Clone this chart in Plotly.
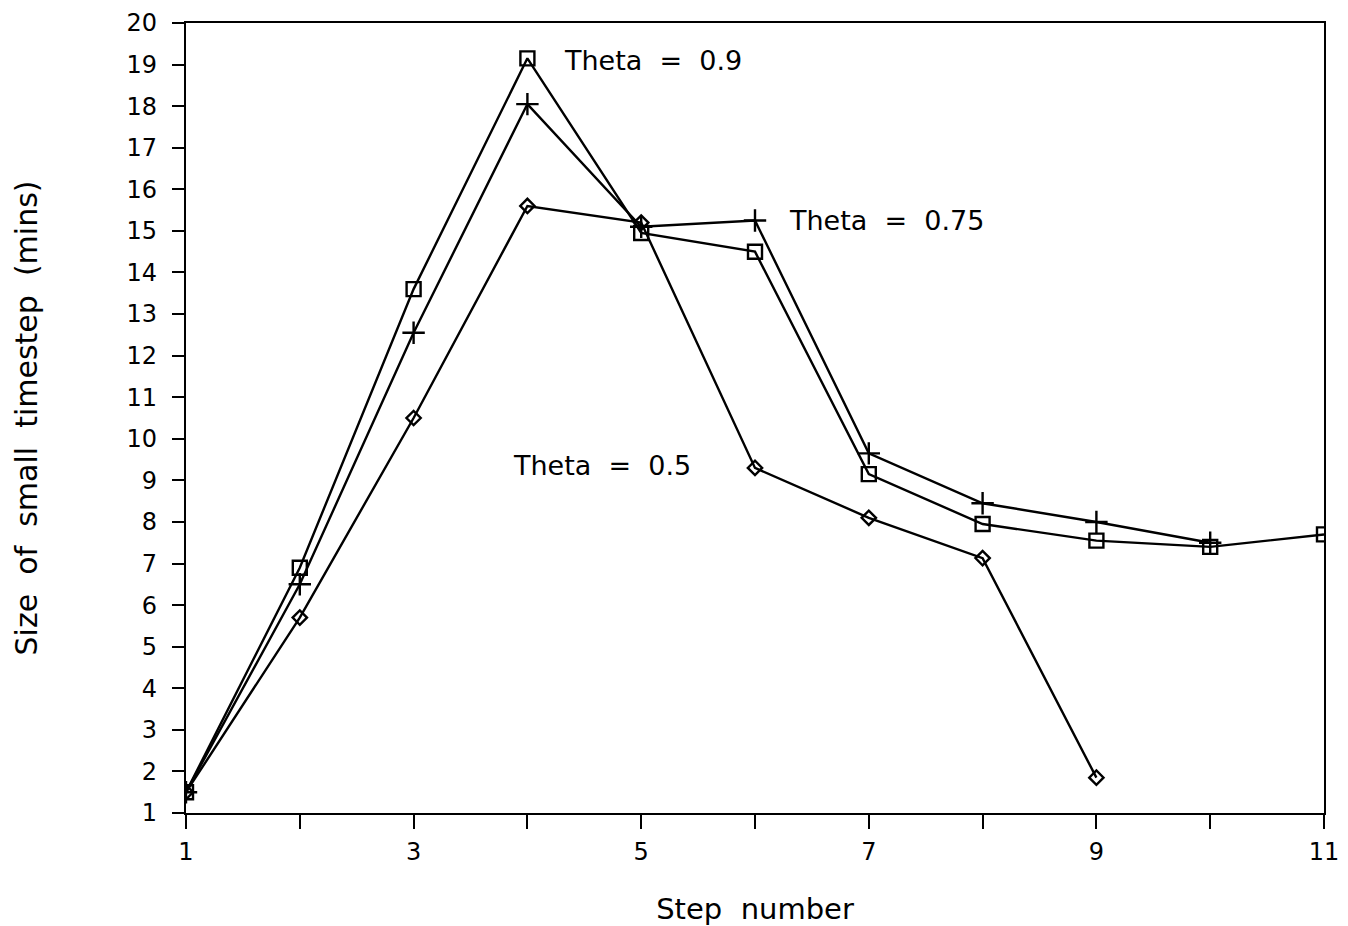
import plotly.graph_objects as go

steps_09 = [1, 2, 3, 4, 5, 6, 7, 8, 9, 10, 11]
theta_09 = [1.5, 6.9, 13.6, 19.15, 14.95, 14.5, 9.15, 7.95, 7.55, 7.4, 7.7]

steps_075 = [1, 2, 3, 4, 5, 6, 7, 8, 9, 10]
theta_075 = [1.5, 6.5, 12.55, 18.05, 15.1, 15.25, 9.65, 8.45, 8.0, 7.5]

steps_05 = [1, 2, 3, 4, 5, 6, 7, 8, 9]
theta_05 = [1.5, 5.7, 10.5, 15.6, 15.2, 9.3, 8.1, 7.13, 1.85]

NB = "\u00a0"
labels = [f"Theta{NB}{NB}={NB}{NB}0.9", f"Theta{NB}{NB}={NB}{NB}0.75", f"Theta{NB}{NB}={NB}{NB}0.5"]
label_x = [4.3, 6.28, 3.86]
label_y = [19.1, 15.25, 9.35]

x_tickvals = [1, 3, 5, 7, 9, 11]
y_tickvals = list(range(1, 21))

x_title = f"Step{NB}{NB}number"
y_title = f"Size{NB}{NB}of{NB}{NB}small{NB}{NB}timestep{NB}{NB}(mins)"

font_family = "DejaVu Sans"

fig = go.Figure()
line = dict(color="black", width=2.4)
fig.add_trace(go.Scatter(x=steps_09, y=theta_09, mode="lines+markers", line=line,
                         marker=dict(symbol="square-open", size=14, color="black", line=dict(width=2.4))))
fig.add_trace(go.Scatter(x=steps_075, y=theta_075, mode="lines+markers", line=line,
                         marker=dict(symbol="cross-thin-open", size=16, color="black", line=dict(width=2.4))))
fig.add_trace(go.Scatter(x=steps_05, y=theta_05, mode="lines+markers", line=line,
                         marker=dict(symbol="diamond-open", size=11, color="black", line=dict(width=2.4))))

for t, ax, ay in zip(labels, label_x, label_y):
    fig.add_annotation(x=ax, y=ay, text=t, showarrow=False, xanchor="left", yanchor="middle",
                       font=dict(size=27, color="black", family=font_family))

fig.update_layout(
    width=1348, height=926,
    margin=dict(l=186, r=24, t=23, b=113),
    paper_bgcolor="white", plot_bgcolor="white",
    showlegend=False,
    font=dict(family=font_family, size=24, color="black"),
)
fig.update_xaxes(range=[1, 11], tickvals=x_tickvals, ticks="outside", ticklen=14, tickwidth=2.4,
                 tickcolor="black", showline=True, linecolor="black", linewidth=2.4, mirror=True,
                 showgrid=False, zeroline=False, ticklabelstandoff=2, automargin=False,
                 minor=dict(dtick=1, tick0=1, ticks="outside", ticklen=14, tickwidth=2.4, tickcolor="black"),
                 title=dict(text=x_title, font=dict(size=29), standoff=35),
                 tickfont=dict(size=24))
fig.update_yaxes(range=[1, 20], tickvals=y_tickvals, ticks="outside", ticklen=12, tickwidth=2.4,
                 tickcolor="black", showline=True, linecolor="black", linewidth=2.4, mirror=True,
                 showgrid=False, zeroline=False, ticklabelstandoff=10, automargin=False,
                 title=dict(text=y_title, font=dict(size=30), standoff=80),
                 tickfont=dict(size=24))

fig.write_html("out.html")
